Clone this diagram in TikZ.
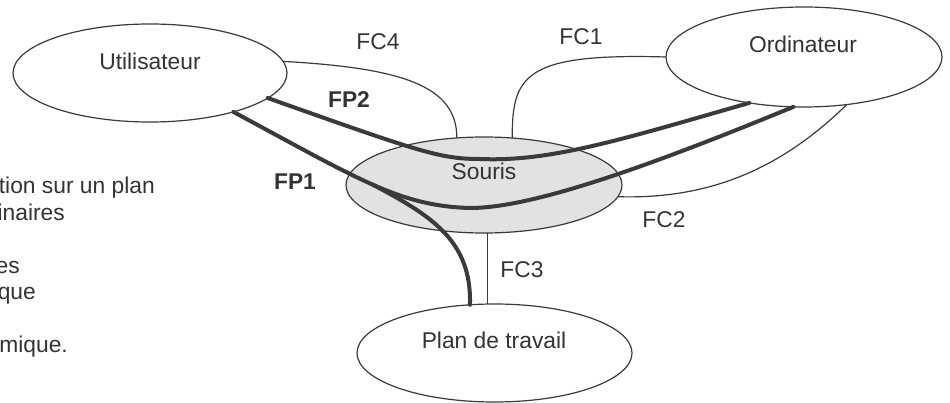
\documentclass[tikz,border=0pt]{standalone}
\usepackage{fontspec}
\setmainfont{Liberation Sans}
\usetikzlibrary{shapes.geometric}
\definecolor{ink}{HTML}{333333}
\definecolor{linecol}{HTML}{3A3A3A}
\definecolor{mousefill}{HTML}{E2E2E2}
\begin{document}
\begin{tikzpicture}[x=1pt,y=-1pt,
  every node/.style={font=\fontsize{22.8}{26}\selectfont, text=ink},
  elli/.style={ellipse, draw=linecol, line width=1.2pt, inner sep=0pt, outer sep=0pt},
  fcline/.style={draw=linecol, line width=1.2pt},
  fpline/.style={draw=linecol, line width=4pt, line cap=round},
  lbl/.style={anchor=base, inner sep=0pt},
  boldlbl/.style={anchor=base, inner sep=0pt, font=\fontsize{22.8}{26}\selectfont\bfseries},
  sidetext/.style={anchor=base east, inner sep=0pt}]
\useasboundingbox (0,0) rectangle (950,403);
\clip (0,0) rectangle (950,403);

% ellipses
\node[elli, minimum width=274pt, minimum height=98pt] (util) at (150,73) {};
\node[elli, minimum width=276pt, minimum height=100pt] (ordi) at (804,57) {};
\node[elli, fill=mousefill, minimum width=276pt, minimum height=96pt] (sour) at (484,185) {};
\node[elli, minimum width=275pt, minimum height=98pt] (plan) at (494.5,353) {};

% constraint functions (thin)
\draw[fcline] (util.5) .. controls (400,68) and (457,85) .. (sour.120);
\draw[fcline] (sour.59) .. controls (512,75) and (525,53) .. (ordi.west);
\draw[fcline] (sour.-5) .. controls (720,200) and (790,160) .. (ordi.-48);
\draw[fcline] (sour.-86) -- (sour.-86 |- plan.north);

% principal functions (thick)
\draw[fpline] (util.-12) .. controls (420,152) and (440,159) .. (480,159)
  .. controls (550,162) and (620,140) .. (ordi.-140);
\draw[fpline] (util.-25) .. controls (360,180) and (400,206) .. coordinate[pos=0.5] (fork) (470,208)
  .. controls (530,208) and (640,170) .. (ordi.-102);
\draw[fpline] (fork) .. controls (430,215) and (472,240) .. (plan.117);

% texts in ellipses
\node[lbl] (utilT) at (150,70) {Utilisateur};
\node[lbl] (ordiT) at (803,53) {Ordinateur};
\node[lbl] (sourT) at (484,180) {Souris};
\node[lbl] (planT) at (494,348) {Plan de travail};

% function labels
\node[lbl] (fc4) at (378,50) {FC4};
\node[lbl] (fc1) at (581,45) {FC1};
\node[lbl] (fc2) at (664,228) {FC2};
\node[lbl] (fc3) at (522,277) {FC3};
\node[boldlbl] (fp2) at (349,108) {FP2};
\node[boldlbl] (fp1) at (295,190) {FP1};

% cut-off text on the left
\node[sidetext] (s1) at (155,194) {tion sur un plan};
\node[sidetext] (s2) at (65,221) {inaires};
\node[sidetext] (s3) at (20,273) {es};
\node[sidetext] (s4) at (36,299) {que};
\node[sidetext] (s5) at (68,352) {mique.};
\end{tikzpicture}
\end{document}
